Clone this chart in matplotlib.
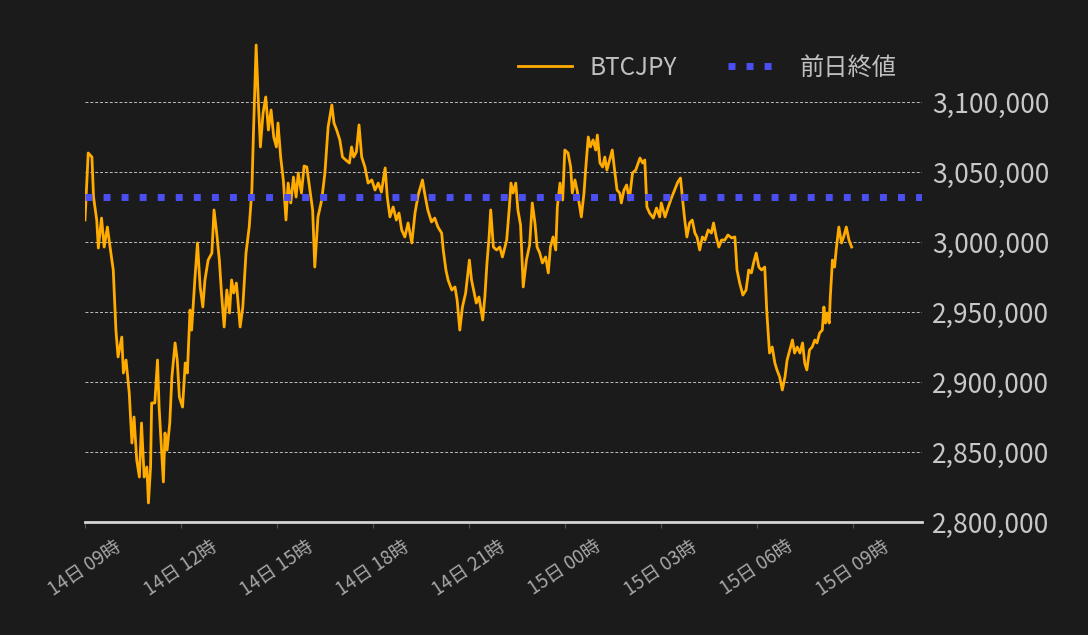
import pandas as pd
import matplotlib
matplotlib.use("Agg")
import matplotlib.pyplot as plt
import matplotlib.dates as mdates
from matplotlib.ticker import FuncFormatter

plt.rcParams['font.family'] = ['Noto Sans CJK JP', 'DejaVu Sans']

# minutes after 14日 09:00, BTCJPY price
minutes = [0, 6, 13, 16, 22, 25, 31, 36, 42, 47, 53, 58, 62, 69, 72, 77, 83, 88, 92, 97,
           102, 106, 111, 116, 119, 123, 125, 131, 136, 139, 147, 150, 154, 159, 163, 169, 173, 177, 183, 188,
           192, 197, 200, 206, 211, 216, 221, 225, 231, 238, 242, 247, 252, 256, 261, 266, 271, 275, 279, 284,
           291, 296, 302, 308, 313, 316, 321, 325, 329, 334, 339, 344, 349, 354, 359, 362, 367, 372, 377, 381,
           386, 391, 396, 400, 406, 411, 416, 422, 427, 431, 437, 444, 450, 456, 463, 467, 472, 478, 483, 489,
           496, 500, 504, 509, 514, 519, 525, 531, 538, 544, 550, 556, 563, 567, 572, 578, 584, 589, 594, 600,
           606, 613, 619, 625, 633, 637, 643, 650, 656, 662, 669, 672, 677, 681, 688, 694, 698, 703, 708, 714,
           721, 725, 729, 734, 739, 746, 750, 754, 758, 761, 766, 772, 778, 783, 791, 796, 799, 803, 808, 812,
           817, 822, 828, 834, 839, 844, 848, 853, 858, 864, 869, 873, 878, 883, 886, 891, 896, 900, 906, 911,
           914, 919, 923, 928, 931, 936, 939, 944, 948, 953, 958, 961, 966, 971, 975, 979, 984, 989, 994, 998,
           1003, 1006, 1011, 1016, 1021, 1027, 1033, 1041, 1046, 1050, 1054, 1059, 1066, 1072, 1078, 1081, 1088, 1094, 1100, 1106,
           1112, 1117, 1121, 1125, 1129, 1134, 1139, 1144, 1148, 1153, 1158, 1163, 1169, 1175, 1179, 1184, 1189, 1194, 1200, 1206,
           1213, 1219, 1223, 1228, 1234, 1240, 1245, 1250, 1254, 1259, 1264, 1269, 1275, 1279, 1284, 1289, 1294, 1298, 1303, 1308,
           1313, 1317, 1322, 1327, 1331, 1336, 1341, 1346, 1350, 1354, 1359, 1364, 1369, 1373, 1378, 1383, 1386, 1389, 1392, 1396,
           1398, 1402, 1406, 1409, 1414, 1419, 1423, 1428, 1433, 1438]
prices = [3015700, 3063600, 3060700, 3032100, 3015700, 2995700, 3017100, 2996400, 3010700, 2996400,
          2980000, 2937100, 2917900, 2932100, 2906400, 2915700, 2892100, 2856400, 2875000, 2844300,
          2832100, 2870700, 2832100, 2839300, 2813600, 2839300, 2885000, 2885000, 2915700, 2882100,
          2828600, 2863600, 2851400, 2870700, 2903600, 2927900, 2915700, 2889300, 2882100, 2913600,
          2906400, 2951400, 2937100, 2972900, 2999300, 2967900, 2953600, 2972900, 2987100, 2992100,
          3022900, 3006400, 2987100, 2963600, 2939300, 2965700, 2949300, 2972900, 2963600, 2970700,
          2939300, 2953600, 2992100, 3010700, 3037100, 3077900, 3140700, 3101400, 3067900, 3092100,
          3103600, 3080000, 3094300, 3075000, 3067900, 3085000, 3060700, 3044300, 3015700, 3042100,
          3027900, 3046400, 3032100, 3049300, 3035000, 3054300, 3053600, 3037100, 3022900, 2982100,
          3017900, 3030000, 3049300, 3082100, 3097900, 3085000, 3080000, 3072900, 3060700, 3058600,
          3056400, 3067900, 3060700, 3064300, 3083600, 3060700, 3053600, 3042100, 3044300, 3037100,
          3042100, 3035700, 3052900, 3032100, 3017900, 3025000, 3015700, 3020700, 3008600, 3003600,
          3013600, 2999300, 3020700, 3033600, 3044300, 3035000, 3022900, 3014300, 3017100, 3010700,
          3006400, 2994300, 2980000, 2972900, 2965700, 2967900, 2958600, 2937100, 2953600, 2963600,
          2987100, 2972900, 2965700, 2956400, 2960700, 2944300, 2960700, 2985000, 3003600, 3022900,
          2996400, 2994300, 2996400, 2989300, 3001400, 3025000, 3042100, 3035000, 3042100, 3022900,
          3012100, 2967900, 2987100, 2997900, 3027900, 3013600, 2996400, 2992100, 2985000, 2989300,
          2977900, 2996400, 3003600, 2994300, 3025000, 3042100, 3030000, 3065700, 3063600, 3053600,
          3035000, 3044300, 3037100, 3025000, 3017900, 3035000, 3051400, 3075000, 3067900, 3072900,
          3065700, 3076400, 3056400, 3053600, 3060700, 3051400, 3058600, 3065700, 3049300, 3037100,
          3035000, 3027900, 3037100, 3040700, 3030000, 3049300, 3051400, 3060000, 3056400, 3058600,
          3025000, 3020700, 3017100, 3024300, 3017900, 3027900, 3017900, 3025000, 3031400, 3037100,
          3042900, 3045700, 3030000, 3015700, 3003600, 3013600, 3015700, 3006400, 3003600, 2994300,
          3003600, 3001400, 3008600, 3006400, 3013600, 3003600, 2996400, 3001400, 3001400, 3005000,
          3002900, 3003600, 2980000, 2970700, 2962100, 2965700, 2980000, 2977900, 2985000, 2992100,
          2982100, 2980000, 2982100, 2949300, 2920700, 2925000, 2913600, 2908600, 2903600, 2894300,
          2903600, 2915700, 2922900, 2930000, 2920700, 2925000, 2920700, 2927900, 2913600, 2908600,
          2922900, 2925000, 2930000, 2927900, 2935000, 2937100, 2953600, 2942100, 2949300, 2942100,
          2960700, 2987100, 2982100, 2994300, 3010700, 2999300, 3003600, 3010700, 3001400, 2996400]
prev_close = 3032000

y_ticks = [2800000, 2850000, 2900000, 2950000, 3000000, 3050000, 3100000]

start = pd.Timestamp('2023-03-14 09:00')
times = start + pd.to_timedelta(minutes, unit='m')

bg = '#1b1b1b'
fig = plt.figure(figsize=(10.88, 6.35), dpi=100, facecolor=bg)
ax = fig.add_axes([85 / 1088, 1 - 522 / 635, (922 - 85) / 1088, (522 - 18) / 635])
ax.set_facecolor(bg)

ax.plot(times, prices, color='#ffab00', lw=2.0, label='BTCJPY', zorder=3)
ax.axhline(prev_close, color='#4b4ff2', lw=5.0, linestyle=(0, (1, 1.6)),
           dash_capstyle='butt', label='前日終値', zorder=4)

ax.set_xlim(start, start + pd.Timedelta(minutes=1570))
ax.set_ylim(2800000, 3160000)

for v in y_ticks[1:]:
    ax.axhline(v, color='#c0c0c0', lw=0.7, linestyle=(0, (3, 2)), zorder=1)

for s in ['top', 'left', 'right']:
    ax.spines[s].set_visible(False)
ax.spines['bottom'].set_color('#d4d4d4')
ax.spines['bottom'].set_linewidth(2)

ax.yaxis.tick_right()
ax.set_yticks(y_ticks)
ax.yaxis.set_major_formatter(FuncFormatter(lambda v, p: f'{int(v):,}'))
ax.tick_params(axis='y', length=0, pad=7, labelsize=19, labelcolor='#c8c8c8')

ax.xaxis.set_major_locator(mdates.HourLocator(byhour=range(0, 24, 3)))
ax.xaxis.set_major_formatter(mdates.DateFormatter('%d日 %H時'))
ax.tick_params(axis='x', length=4, width=0.8, color='#555555', pad=6,
               labelsize=13.5, labelcolor='#a8a8a8')
for lbl in ax.get_xticklabels():
    lbl.set_rotation(34)
    lbl.set_ha('center')

leg = fig.legend(loc='center right', bbox_to_anchor=(897 / 1088, 1 - 68 / 635), ncol=2,
                 frameon=False, fontsize=17.5, handlelength=2.2, handletextpad=0.75,
                 columnspacing=2.1, borderpad=0, borderaxespad=0)
for t in leg.get_texts():
    t.set_color('#c0c0c0')

fig.savefig('out.png', dpi=100, facecolor=bg)
